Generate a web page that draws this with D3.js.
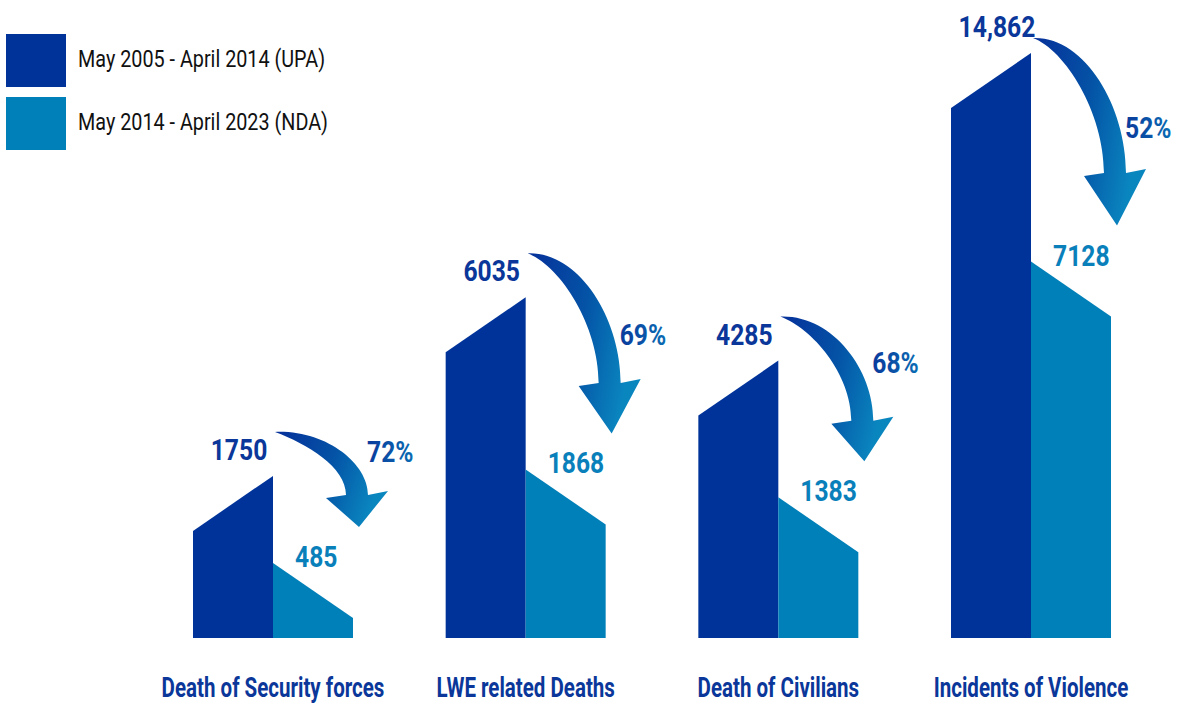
<!DOCTYPE html>
<html>
<head>
<meta charset="utf-8">
<script src="https://cdn.jsdelivr.net/npm/d3@7"></script>
<style>
  body { margin: 0; background: #fff; }
  svg { display: block; font-family: Roboto, "Noto Sans", sans-serif; }
</style>
</head>
<body>
<svg id="chart" width="1202" height="704"></svg>
<script>
// data
const categories = ["Death of Security forces", "LWE related Deaths", "Death of Civilians", "Incidents of Violence"];
const seriesNames = ["May 2005 - April 2014 (UPA)", "May 2014 - April 2023 (NDA)"];
const upaValues = [1750, 6035, 4285, 14862];
const ndaValues = [485, 1868, 1383, 7128];

const colors = ["#003399", "#0080b8"];
const baseY = 638, barW = 80, slant = 55;

const svg = d3.select("#chart");
const defs = svg.append("defs");

const arrowGrad = defs.append("linearGradient").attr("id", "arrowGrad")
  .attr("x1", 0).attr("y1", 0).attr("x2", 1).attr("y2", 0.3);
arrowGrad.append("stop").attr("offset", "0%").attr("stop-color", "#06309a");
arrowGrad.append("stop").attr("offset", "55%").attr("stop-color", "#0453a6");
arrowGrad.append("stop").attr("offset", "100%").attr("stop-color", "#0a86bf");

const pctGrad = defs.append("linearGradient").attr("id", "pctGrad")
  .attr("x1", 0).attr("y1", 0).attr("x2", 1).attr("y2", 0);
pctGrad.append("stop").attr("offset", "0%").attr("stop-color", "#0a3a9c");
pctGrad.append("stop").attr("offset", "100%").attr("stop-color", "#0a6db4");

// group position = the edge shared by the two bars
const x = d3.scalePoint().domain(categories).range([273, 1031]);
// infographic bars are not linear, a power scale fits them best
const h = d3.scalePow().exponent(0.6).domain([0, d3.max(upaValues)]).range([0, 585]);

const fmtVal = v => v >= 10000 ? d3.format(",")(v) : String(v);
const fmtPct = d3.format(".0%");

// the original font is a condensed one, squeeze the glyphs to get close
function squeeze(sel, k) {
  sel.each(function() {
    const w = this.getComputedTextLength();
    d3.select(this).attr("textLength", w * k).attr("lengthAdjust", "spacingAndGlyphs");
  });
}

const groups = svg.selectAll(".grp").data(categories).enter().append("g").attr("class", "grp");

// UPA bar: top slopes up to the right
groups.append("path")
  .attr("fill", colors[0])
  .attr("d", (d, i) => {
    const e = x(d), top = baseY - h(upaValues[i]);
    return `M${e - barW},${baseY}L${e - barW},${top + slant}L${e},${top}L${e},${baseY}Z`;
  });

// NDA bar: top slopes down to the right
groups.append("path")
  .attr("fill", colors[1])
  .attr("d", (d, i) => {
    const e = x(d), top = baseY - h(ndaValues[i]);
    return `M${e},${baseY}L${e},${top}L${e + barW},${top + slant}L${e + barW},${baseY}Z`;
  });

groups.append("text")
  .attr("x", d => x(d) - 34)
  .attr("y", (d, i) => baseY - h(upaValues[i]) - 16)
  .attr("text-anchor", "middle")
  .attr("font-size", 29).attr("font-weight", "bold")
  .attr("fill", "#0a3799")
  .text((d, i) => fmtVal(upaValues[i]))
  .call(squeeze, 0.85);

groups.append("text")
  .attr("x", d => x(d) + 22)
  .attr("y", (d, i) => baseY - h(ndaValues[i]) + 4)
  .attr("font-size", 29).attr("font-weight", "bold")
  .attr("fill", "#0a80bb")
  .text((d, i) => fmtVal(ndaValues[i]))
  .call(squeeze, 0.85);

// curved arrows from the UPA value to the NDA value
function arrowPath(tx, ty, px, py) {
  const span = py - ty;
  const hh = Math.max(32, span * 0.28);
  const hx = px - 2, hy = py - hh;
  const rx = hx + 11, lx = hx - 11;
  return `M${tx},${ty}` +
    `C${tx + 0.55 * (rx - tx)},${ty - 2} ${rx},${hy - 0.5 * (hy - ty)} ${rx},${hy}` +
    `L${hx + 31},${hy - 4}L${px},${py}L${hx - 31},${hy + 3}L${lx},${hy}` +
    `C${lx},${hy - 0.45 * (hy - ty)} ${tx + 0.45 * (lx - tx)},${ty + 12} ${tx},${ty}Z`;
}

groups.each(function(d, i) {
  const g = d3.select(this);
  const e = x(d);
  const tx = e + 2, ty = Math.max(baseY - h(upaValues[i]) - 44, 38);
  const px = e + barW + 6, py = baseY - h(ndaValues[i]) - 36;
  g.append("path").attr("fill", "url(#arrowGrad)").attr("d", arrowPath(tx, ty, px, py));
  g.append("text")
    .attr("x", px + 8)
    .attr("y", Math.max(ty + 30, py - 88))
    .attr("font-size", 29).attr("font-weight", "bold")
    .attr("fill", "url(#pctGrad)")
    .text(fmtPct(1 - ndaValues[i] / upaValues[i]))
    .call(squeeze, 0.85);
});

// category labels
svg.selectAll(".cat").data(categories).enter().append("text")
  .attr("class", "cat")
  .attr("x", d => x(d))
  .attr("y", 697)
  .attr("text-anchor", "middle")
  .attr("font-size", 27).attr("font-weight", "bold")
  .attr("fill", "#0a3799")
  .text(d => d)
  .call(squeeze, 0.76);

// legend
const legend = svg.selectAll(".leg").data(seriesNames).enter().append("g")
  .attr("class", "leg")
  .attr("transform", (d, i) => `translate(6,${34 + i * 63})`);
legend.append("rect").attr("width", 60).attr("height", 53).attr("fill", (d, i) => colors[i]);
legend.append("text").attr("x", 72).attr("y", 33)
  .attr("font-size", 23).attr("fill", "#111")
  .text(d => d)
  .call(squeeze, 0.86);
</script>
</body>
</html>
